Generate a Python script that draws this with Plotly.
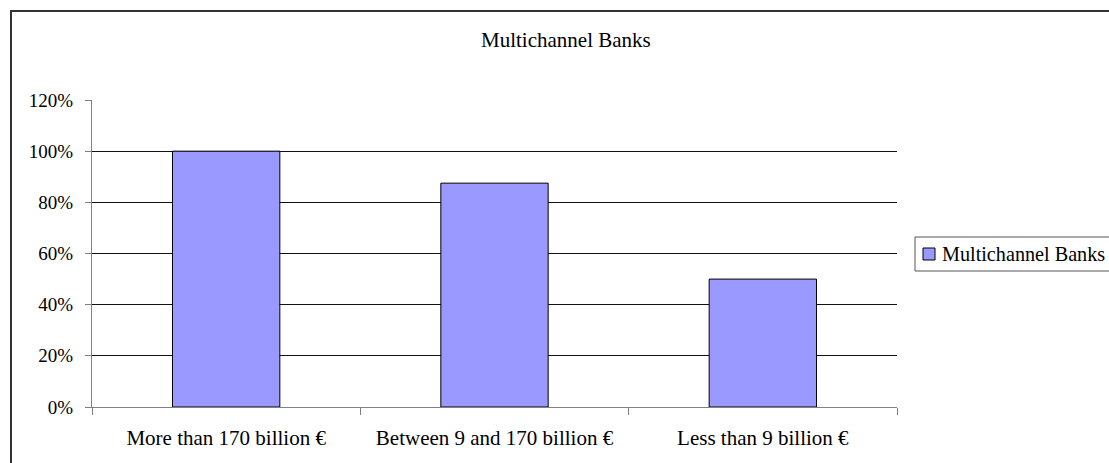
import plotly.graph_objects as go

categories = ["More than 170 billion €", "Between 9 and 170 billion €", "Less than 9 billion €"]
values = [1.00, 0.875, 0.50]
series_name = "Multichannel Banks"
title_text = "Multichannel Banks"

W, H = 1109, 463
L, R, T, B = 92, 897, 100, 407  # plot area in pixels
FONT = "Liberation Serif, Times New Roman, serif"
FS = 21
FS_TICK = 19
FS_LEG = 20.2

def px(x):
    return (x - L) / (R - L)

def py(y):
    return (B - y) / (B - T)

fig = go.Figure()
fig.add_trace(go.Bar(
    x=categories, y=values, name=series_name,
    marker=dict(color="#9999FF", line=dict(color="#000000", width=1)),
    showlegend=False,
))

shapes = [
    # outer chart border (top/left visible, extends beyond canvas)
    dict(type="rect", xref="paper", yref="paper",
         x0=px(11), x1=px(1125), y0=py(480), y1=py(11),
         line=dict(color="#333333", width=2), fillcolor="rgba(0,0,0,0)", layer="above"),
    # legend box
    dict(type="rect", xref="paper", yref="paper",
         x0=px(915), x1=px(1125), y0=py(271), y1=py(237),
         line=dict(color="#555555", width=1), fillcolor="#ffffff"),
    # legend swatch
    dict(type="rect", xref="paper", yref="paper",
         x0=px(923), x1=px(935), y0=py(260), y1=py(248),
         line=dict(color="#000000", width=1), fillcolor="#9999FF"),
]

annotations = [
    dict(text=title_text, xref="paper", yref="paper", x=px(566), y=py(40),
         xanchor="center", yanchor="middle", showarrow=False,
         font=dict(family=FONT, size=FS, color="#000000")),
    dict(text=series_name, xref="paper", yref="paper", x=px(940), y=py(254),
         xanchor="left", yanchor="middle", showarrow=False,
         font=dict(family=FONT, size=FS_LEG, color="#000000")),
]

fig.update_layout(
    width=W, height=H,
    margin=dict(l=L, r=W - R, t=T, b=H - B, pad=0),
    paper_bgcolor="#ffffff", plot_bgcolor="#ffffff",
    bargap=0.6,
    shapes=shapes, annotations=annotations,
    font=dict(family=FONT, size=FS, color="#000000"),
    xaxis=dict(
        showline=True, linecolor="#808080", linewidth=1,
        ticks="outside", tickson="boundaries", ticklen=7, tickcolor="#808080",
        showgrid=False, ticklabelstandoff=12,
        tickfont=dict(family=FONT, size=FS, color="#000000"),
    ),
    yaxis=dict(
        range=[0, 1.2], dtick=0.2, tickformat=".0%",
        showline=True, linecolor="#808080", linewidth=1,
        ticks="outside", ticklen=6, tickcolor="#808080",
        showgrid=True, gridcolor="#111111", gridwidth=1, zeroline=False,
        ticklabelstandoff=8,
        tickfont=dict(family=FONT, size=FS_TICK, color="#000000"),
    ),
)

fig.write_html("out.html")
